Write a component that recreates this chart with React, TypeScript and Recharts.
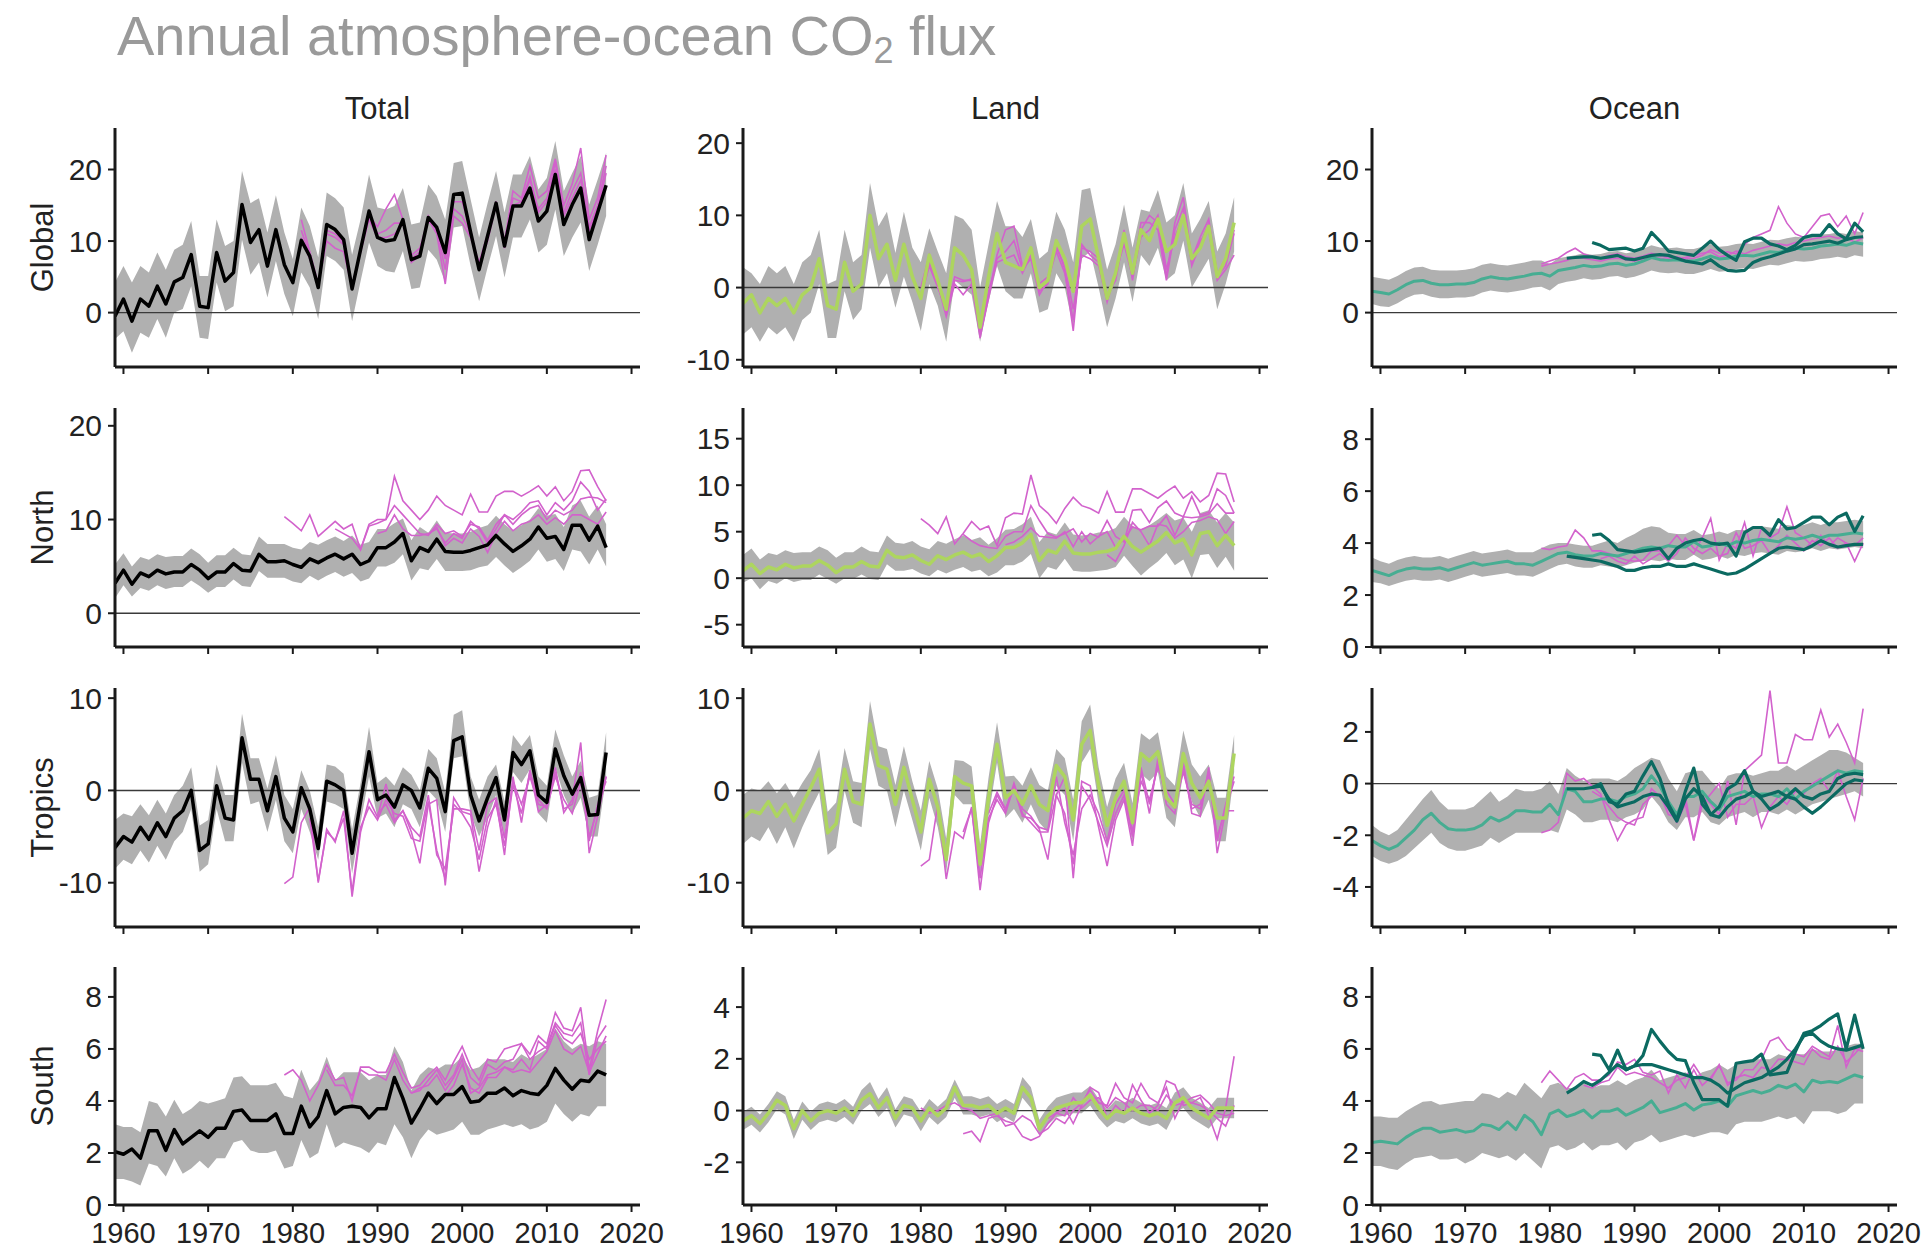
import React from 'react';
import { ComposedChart, Area, Line, XAxis, YAxis, ReferenceLine } from 'recharts';

const FONT = '"Liberation Sans", Arial, Helvetica, sans-serif';

const years = [1959,1960,1961,1962,1963,1964,1965,1966,1967,1968,
1969,1970,1971,1972,1973,1974,1975,1976,1977,1978,
1979,1980,1981,1982,1983,1984,1985,1986,1987,1988,
1989,1990,1991,1992,1993,1994,1995,1996,1997,1998,
1999,2000,2001,2002,2003,2004,2005,2006,2007,2008,
2009,2010,2011,2012,2013,2014,2015,2016,2017];
const xTicks = [1960,1970,1980,1990,2000,2010,2020];
const rowNames = ['Global','North','Tropics','South'];
const colNames = ['Total','Land','Ocean'];
const titleMain = 'Annual atmosphere-ocean CO';
const titleSub = '2';
const titleEnd = ' flux';

// ---------- Total / Global ----------
const tgMean = [-0.5,1.9,-1.2,1.9,0.9,3.7,1.2,4.3,4.9,8.1, 0.9,0.7,8.4,4.4,5.6,15.1,9.8,11.6,6.5,11.6, 6.7,4.2,10.1,7.9,3.5,12.3,11.6,10.2,3.3,8.8, 14.2,10.5,10.0,10.2,13.0,7.4,7.9,13.3,11.9,8.4, 16.5,16.7,11.2,6.0,10.7,15.3,9.3,14.9,14.9,17.4, 12.8,14.2,19.3,12.3,15.1,17.4,10.2,14.0,17.8];
const tgHi = [4.2,6.5,4.2,6.5,5.6,8.4,6.0,8.8,9.5,12.8, 5.1,5.1,13.0,9.3,10.0,19.8,15.3,16.0,11.2,16.4, 11.2,7.5,14.7,12.1,7.7,16.8,16.0,14.7,8.1,13.0, 19.3,14.7,14.4,14.9,17.4,12.3,12.6,17.9,16.3,13.0, 20.9,21.2,15.8,10.5,15.3,19.8,14.0,19.3,19.3,21.9, 17.2,18.8,24.0,17.0,19.5,21.9,15.1,18.6,22.3];
const tgLo = [-3.7,-2.6,-5.6,-2.8,-3.5,-0.9,-3.5,0.0,0.5,3.7, -3.5,-3.7,4.2,0.2,0.9,10.2,5.3,7.0,2.1,7.2, 2.6,-0.5,5.6,3.5,-0.9,7.9,7.2,6.0,-1.2,4.4, 9.8,6.5,5.8,5.6,8.6,3.3,3.5,8.8,7.4,4.2, 11.9,12.1,6.5,1.6,6.3,10.7,4.9,10.5,10.5,13.0, 8.4,9.5,14.4,7.9,10.5,12.6,5.8,9.5,13.5];
const tgM1 = [13.0,8.5,4.0,10.0,9.0,8.5,3.5,8.5,13.5,12.0, 14.5,16.5,13.0,8.0,9.0,13.0,11.0,4.0,13.5,12.5, 10.5,7.0,11.0,15.5,10.0,17.0,16.0,20.5,16.0,17.0, 21.5,15.0,18.0,23.0,13.0,16.0,22.0];
const tgM2 = [11.5,8.0,3.8,11.0,10.5,9.5,3.2,9.0,13.8,11.0, 11.5,12.5,12.5,7.5,8.5,13.5,11.5,6.0,14.5,13.5, 11.0,6.5,10.0,15.0,9.5,16.0,15.5,18.5,14.5,16.0, 20.0,14.0,17.0,19.5,12.0,15.0,20.5];
const tgM3 = [10.5,7.5,3.5,11.5,11.0,9.8,3.8,8.5,13.0,10.5, 10.5,11.0,12.5,7.0,8.0,13.0,12.0,7.5,15.5,15.5, 11.5,6.2,10.5,15.5,9.0,15.0,15.5,19.0,14.0,15.5, 21.0,13.5,16.0,18.5,11.5,14.5,19.5];

// ---------- Land / Global ----------
const lgMean = [-2.2,-1.0,-3.5,-1.5,-2.5,-1.5,-3.5,-1.0,0.0,4.0, -2.5,-3.0,3.5,-0.5,0.5,10.0,4.0,6.0,1.0,6.0, 1.5,-1.5,4.5,1.0,-3.0,5.5,4.5,2.5,-5.5,1.5, 7.5,3.5,3.0,2.5,5.5,0.0,1.0,6.5,4.0,-0.5, 8.5,9.5,4.0,-1.5,2.0,7.5,2.0,8.0,6.5,9.5, 5.0,6.0,10.0,4.0,5.5,8.5,1.5,4.0,9.0];
const lgHi = [2.8,2.0,0.5,3.0,2.0,3.0,0.5,3.5,4.5,8.0, 0.5,1.0,8.0,3.5,4.5,14.5,8.5,10.5,4.8,10.5, 5.5,3.5,8.2,5.0,2.0,10.0,9.5,8.0,0.0,6.0, 12.0,8.5,8.5,7.0,9.5,4.0,5.0,10.5,8.0,3.5, 13.5,13.8,8.0,2.5,6.0,11.5,5.5,10.8,10.5,13.5, 9.0,10.0,14.5,7.5,9.5,12.0,5.0,7.5,12.5];
const lgLo = [-6.5,-5.5,-7.5,-5.5,-6.5,-5.5,-7.5,-4.5,-3.5,0.5, -7.0,-7.0,-0.5,-4.5,-3.0,5.5,0.0,2.0,-2.8,1.5, -2.0,-6.0,0.5,-2.5,-7.5,1.0,0.0,-1.0,-7.5,-2.0, 3.0,-0.5,-1.5,-1.5,2.0,-3.5,-3.0,2.0,0.0,-5.5, 4.0,5.0,0.0,-5.5,-1.5,3.5,-2.0,4.5,3.0,5.5, 1.0,2.0,6.5,0.0,2.0,4.0,-3.0,0.5,5.0];
const lgM1 = [0.0,4.5,1.0,-3.5,1.0,0.8,1.2,-7.0,-1.0,4.5, 8.0,8.5,3.0,4.5,-0.5,0.5,6.0,2.5,-6.0,6.0, 4.5,3.5,-1.5,1.5,8.0,1.0,8.0,10.0,9.0,1.5, 9.0,12.5,4.0,7.0,9.5,2.0,3.5,8.0];
const lgM2 = [-1.0,3.5,0.5,-4.0,0.5,-1.0,0.5,-6.5,-1.5,4.0, 5.0,6.5,2.5,4.0,-1.0,1.0,5.0,2.0,-4.5,5.5, 5.0,4.0,-1.0,1.0,7.0,2.0,9.0,9.0,8.0,1.0, 8.0,11.0,3.0,6.0,9.0,1.5,3.0,7.5];
const lgM3 = [-1.5,3.0,0.0,-3.0,1.5,1.0,1.0,-6.0,-0.5,3.5, 4.0,4.5,2.0,4.5,0.5,1.5,5.5,3.0,-3.0,4.5, 4.0,3.0,-2.0,2.0,6.0,1.5,7.0,8.0,10.0,2.5, 7.0,10.0,3.5,6.5,8.0,1.0,2.5,4.5];

// ---------- Ocean / Global ----------
const ogMean = [3.0,2.8,2.6,3.2,3.9,4.4,4.5,4.1,3.9,3.9, 4.0,4.0,4.2,4.7,5.0,4.8,4.7,4.9,5.1,5.4, 5.5,5.1,5.9,6.1,6.3,6.6,6.4,6.5,6.8,6.9, 6.6,6.8,7.2,7.7,7.4,7.3,7.4,7.2,7.2,7.5, 7.9,7.5,7.6,7.9,8.0,7.9,8.2,8.5,8.4,8.7, 9.0,8.9,9.0,9.3,9.4,9.6,9.4,9.8,9.6];
const ogHi = [5.0,4.8,4.6,5.1,5.8,6.3,6.4,6.0,5.9,5.9, 5.9,6.0,6.2,6.7,6.9,6.7,6.6,6.8,7.0,7.3, 7.3,6.8,7.6,7.8,8.0,8.3,8.1,8.2,8.5,8.6, 8.3,8.5,8.9,9.4,9.1,9.0,9.1,8.9,8.9,9.2, 9.6,9.2,9.3,9.6,9.7,9.6,9.9,10.2,10.1,10.4, 10.6,10.5,10.6,10.9,11.0,11.2,11.0,11.4,11.2];
const ogLo = [1.2,0.9,0.8,1.3,2.0,2.5,2.6,2.2,2.0,2.0, 2.1,2.1,2.3,2.8,3.1,2.9,2.8,3.0,3.2,3.5, 3.6,3.1,4.0,4.3,4.5,4.8,4.6,4.7,5.0,5.1, 4.8,5.0,5.4,5.9,5.6,5.5,5.6,5.4,5.4,5.7, 6.1,5.7,5.8,6.1,6.2,6.1,6.4,6.7,6.6,6.9, 7.2,7.1,7.2,7.5,7.6,7.8,7.6,8.0,7.8];
const ogT1 = [7.6,7.7,7.8,7.8,7.6,7.8,8.0,7.5,7.4,7.7, 8.0,8.1,8.0,7.6,7.2,7.0,6.8,7.4,6.5,5.9, 5.8,5.9,7.0,7.5,7.8,8.2,8.6,8.9,9.5,9.6, 9.8,10.0,9.7,10.2,10.5,10.6];
const ogT2 = [9.8,9.4,8.8,8.9,9.0,8.6,9.0,11.2,10.0,8.6, 8.4,8.2,8.0,9.0,10.0,8.8,8.0,7.3,9.9,10.4, 10.4,9.6,9.3,8.8,9.4,10.5,10.8,10.8,12.3,11.0, 10.3,12.5,11.3];
const ogM1 = [6.8,7.2,7.6,8.4,9.0,8.2,7.8,7.6,8.0,8.2, 7.8,7.6,7.9,8.3,8.0,7.6,7.8,7.5,7.6,8.0, 8.8,8.3,8.5,8.2,9.5,10.5,11.0,11.5,14.8,12.5, 11.0,10.5,12.0,13.5,13.8,12.0,13.5,11.0,14.0];
const ogM2 = [6.5,6.8,7.0,7.3,7.8,7.6,7.4,7.2,7.5,7.6, 7.4,7.2,7.5,7.8,7.6,7.4,7.6,7.7,8.0,8.3, 8.5,7.8,8.0,8.6,8.2,8.7,9.0,9.3,9.6,9.4, 9.8,10.0,10.3,10.5,10.7,10.4,10.6,9.8,10.5];

// ---------- Total / North ----------
const tnMean = [3.2,4.6,3.1,4.3,3.9,4.6,4.2,4.4,4.4,5.2, 4.6,3.7,4.4,4.4,5.3,4.6,4.5,6.3,5.5,5.5, 5.6,5.2,4.9,5.8,5.4,5.9,6.3,5.8,6.3,5.2, 5.6,7.0,7.0,7.6,8.5,5.6,7.0,6.6,7.9,6.6, 6.5,6.5,6.7,7.0,7.3,8.3,7.4,6.6,7.2,7.9, 9.2,8.0,8.2,6.8,9.4,9.4,7.8,9.3,7.0];
const tnHi = [5.2,6.4,5.0,6.0,5.7,6.3,6.0,6.1,6.1,6.9, 6.3,5.4,6.2,6.2,7.0,6.3,6.2,8.2,7.4,7.4, 7.4,7.0,6.8,7.6,7.3,7.8,8.2,7.7,8.3,7.3, 7.6,9.0,9.0,9.6,10.1,7.8,9.2,8.6,9.9,8.6, 8.5,8.5,8.7,9.1,9.4,10.4,9.5,8.8,9.4,10.0, 11.2,10.4,10.6,9.2,11.5,12.0,10.3,11.5,9.5];
const tnLo = [1.6,3.0,1.8,2.7,2.4,3.0,2.6,2.8,2.8,3.5, 2.9,2.2,2.8,2.8,3.6,2.9,2.8,4.5,3.8,3.8, 3.8,3.4,3.2,4.0,3.5,4.0,4.4,3.9,4.3,3.4, 3.7,5.0,5.0,5.4,6.3,3.5,4.8,4.6,5.8,4.5, 4.5,4.5,4.6,4.9,5.1,6.0,5.1,4.3,4.9,5.6, 6.8,5.5,5.8,4.5,6.8,6.6,5.2,6.8,5.0];
const tnM1 = [10.3,9.6,8.8,10.5,8.2,9.0,9.8,9.0,9.5,6.8, 9.3,9.6,10.0,14.6,12.0,11.0,10.0,11.0,12.5,11.5, 11.0,10.5,12.7,10.8,10.8,12.5,13.0,13.0,12.5,13.0, 13.6,12.5,13.5,12.0,13.0,15.2,15.3,13.5,12.0];
const tnM2 = [9.0,8.5,8.0,6.8,9.5,10.0,10.0,11.5,10.5,9.5, 8.5,8.3,9.5,8.5,8.8,8.2,9.5,9.2,7.8,9.5, 10.5,10.0,10.8,11.8,12.0,10.5,11.8,11.0,12.0,14.0, 13.0,11.0,12.2];
const tnM3 = [8.5,8.8,10.5,9.0,8.3,8.3,8.5,9.0,7.5,8.5, 8.0,9.8,9.0,7.5,9.0,10.5,9.5,10.5,11.2,11.5, 10.0,11.0,10.5,11.0,12.2,12.4,12.3,11.8];
const tnM4 = [8.4,9.2,7.2,8.0,7.5,9.0,8.2,6.5,8.5,9.8, 8.8,9.5,9.8,10.5,9.5,10.2,9.5,10.5,10.5,10.0, 9.5,10.8];

// ---------- Land / North ----------
const lnMean = [0.8,1.5,0.5,1.2,0.9,1.5,1.1,1.3,1.3,1.9, 1.4,0.6,1.2,1.2,1.8,1.3,1.2,3.0,2.3,2.2, 2.5,1.9,1.5,2.4,2.0,2.5,2.8,2.3,2.6,1.8, 2.4,3.3,3.3,3.8,4.7,1.9,3.0,2.7,4.0,2.7, 2.6,2.6,2.8,2.9,3.2,4.5,3.4,2.8,3.4,4.0, 4.9,3.8,4.2,2.5,4.8,5.0,3.5,4.6,3.5];
const lnHi = [2.5,3.2,2.0,2.7,2.5,3.0,2.7,2.8,2.8,3.4, 3.0,2.2,2.8,2.8,3.4,2.9,2.8,4.6,3.8,3.7, 4.0,3.4,3.1,4.0,3.7,4.2,4.6,4.1,4.4,3.6, 4.3,5.2,5.3,5.8,6.6,3.9,5.0,4.7,6.0,4.7, 4.6,4.7,4.9,5.0,5.4,6.6,5.6,5.2,5.7,6.3, 7.0,6.2,6.5,5.0,7.0,7.3,6.0,7.0,6.0];
const lnLo = [-0.5,0.0,-1.2,-0.3,-0.6,0.0,-0.4,-0.2,-0.2,0.4, -0.1,-0.6,0.0,-0.1,0.4,-0.1,-0.2,1.5,0.8,0.8, 1.0,0.5,0.2,0.9,0.5,0.9,1.2,0.7,0.9,0.2, 0.6,1.4,1.4,1.8,2.6,0.0,1.2,0.9,2.1,0.8, 0.7,0.7,0.8,0.9,1.2,2.4,1.3,0.3,1.1,1.8, 2.7,1.4,2.0,0.0,2.5,2.6,1.1,2.3,0.8];
const lnM1 = [6.4,5.7,4.8,6.6,3.7,4.8,6.1,5.2,5.6,3.5, 6.5,7.0,6.9,11.1,7.8,7.0,5.9,7.5,8.7,7.8, 7.5,7.0,9.3,7.1,7.1,9.6,9.6,9.1,8.6,9.3, 9.9,8.6,9.3,8.2,8.9,11.3,11.2,8.2];
const lnM2 = [4.7,4.0,3.5,3.3,3.2,4.5,5.0,5.0,7.8,6.2, 4.8,4.4,4.8,5.3,3.9,4.8,4.4,6.2,4.5,3.9, 7.3,7.4,6.0,7.6,8.3,7.0,6.6,8.8,6.8,7.1, 9.6,8.9,7.0];
const lnM3 = [3.6,3.9,4.5,5.4,4.5,4.4,4.3,5.0,3.4,5.0, 3.7,4.5,5.0,3.3,4.2,5.5,5.2,5.6,5.6,6.7, 4.6,6.6,6.5,6.6,6.9,8.0,7.0,7.0];
const lnM4 = [2.5,1.8,3.5,6.0,5.0,3.5,5.8,5.6,4.3,5.0, 6.0,6.2,6.6,6.3,4.8,6.1];

// ---------- Ocean / North ----------
const onMean = [2.95,2.85,2.75,2.9,3.0,3.05,3.0,3.0,3.05,2.95, 3.05,3.15,3.25,3.15,3.2,3.25,3.3,3.2,3.2,3.15, 3.3,3.45,3.6,3.65,3.55,3.5,3.5,3.6,3.55,3.5, 3.6,3.7,3.8,3.85,3.8,3.9,3.85,3.85,4.05,3.85, 3.9,4.0,3.9,4.05,4.0,4.1,4.15,4.1,4.05,4.2, 4.15,4.2,4.3,4.2,4.3,4.3,4.35,4.4,4.35];
const onHi = [3.45,3.3,3.2,3.35,3.45,3.5,3.45,3.45,3.5,3.4, 3.5,3.6,3.7,3.6,3.65,3.7,3.75,3.65,3.65,3.65, 3.8,3.95,4.0,4.0,3.95,3.9,3.9,4.0,4.1,4.0, 4.2,4.35,4.55,4.65,4.6,4.4,4.35,4.35,4.5,4.3, 4.35,4.45,4.35,4.5,4.5,4.6,4.65,4.6,4.55,4.7, 4.65,4.7,4.8,4.7,4.8,4.8,4.85,4.9,4.85];
const onLo = [2.5,2.45,2.35,2.45,2.55,2.6,2.55,2.55,2.6,2.5, 2.6,2.7,2.8,2.7,2.75,2.8,2.85,2.75,2.75,2.7, 2.85,3.0,3.15,3.2,3.1,3.05,3.05,3.15,3.1,3.05, 3.15,3.25,3.3,3.35,3.3,3.4,3.35,3.35,3.55,3.35, 3.4,3.5,3.4,3.55,3.5,3.6,3.65,3.6,3.55,3.7, 3.65,3.7,3.8,3.7,3.8,3.75,3.8,3.85,3.8];
const onT1 = [3.5,3.45,3.4,3.35,3.3,3.2,3.1,2.95,2.95,3.05, 3.1,3.1,3.2,3.1,3.1,3.2,3.1,3.0,2.9,2.8, 2.85,3.0,3.2,3.4,3.6,3.8,3.85,3.8,3.75,3.9, 4.1,3.95,3.85,3.9,3.95,3.95];
const onT2 = [4.3,4.35,4.1,3.75,3.7,3.65,3.7,3.75,3.8,3.4, 3.8,4.0,4.1,4.15,4.0,3.95,4.0,3.5,4.4,4.6, 4.6,4.3,4.9,4.55,4.6,4.8,5.0,5.0,4.7,5.0, 5.15,4.45,5.05];
const onM1 = [3.8,3.75,3.85,3.9,4.5,4.2,3.7,3.7,3.6,3.45, 3.35,3.3,3.35,3.7,3.7,3.9,4.3,3.9,3.6,4.2, 4.95,3.35,4.0,3.8,4.8,3.5,4.6,4.2,4.4,5.4, 4.4,4.2,3.9,4.3,3.9,4.2,4.0,3.3,4.0];
const onM2 = [3.4,3.5,3.3,3.2,3.5,3.2,3.4,3.6,3.3,3.6, 4.2,3.8,3.6,3.8,3.5,3.6,4.4,3.8,3.9,4.1, 3.6,3.9,4.3,4.0,3.7,4.1,3.9,4.2,3.8,4.0, 3.9,4.2];

// ---------- Total / Tropics ----------
const ttMean = [-6.2,-5.0,-5.6,-4.0,-5.3,-3.5,-5.0,-3.0,-2.2,0.0, -6.5,-5.8,0.5,-3.0,-3.2,5.7,1.2,1.2,-2.2,1.5, -3.0,-4.5,0.3,-2.0,-6.3,1.0,0.6,0.0,-6.8,-1.2, 4.2,-1.0,-0.5,-1.8,0.6,0.0,-1.9,2.4,1.3,-2.3, 5.4,5.8,-0.5,-3.3,-0.8,1.4,-3.2,4.1,2.8,4.3, -0.5,-1.3,4.5,1.6,-0.4,1.4,-2.7,-2.6,4.1];
const ttHi = [-3.2,-2.5,-2.8,-1.5,-2.7,-1.0,-2.5,-0.5,0.5,2.5, -3.8,-3.2,2.8,-0.5,-0.5,8.3,3.5,3.5,0.2,3.8, -0.5,-2.0,2.2,0.0,-4.0,2.8,2.6,1.8,-4.2,0.8, 6.9,0.8,1.5,0.5,2.5,1.7,0.0,4.5,3.5,-0.2, 8.2,8.7,1.5,-1.0,1.5,2.8,-1.2,6.0,4.8,6.0, 1.5,0.5,6.6,3.8,1.5,3.2,-0.8,-0.5,6.3];
const ttLo = [-8.5,-7.5,-8.0,-6.5,-7.8,-6.0,-7.5,-5.5,-4.5,-2.0, -8.8,-8.0,-2.0,-5.5,-5.5,3.0,-1.5,-1.2,-4.5,-1.0, -5.5,-6.8,-2.0,-4.5,-7.5,-1.2,-1.5,-2.0,-9.0,-3.5, 1.5,-3.0,-2.5,-4.0,-1.5,-2.0,-4.0,0.0,-1.0,-4.5, 3.5,3.7,-2.5,-5.0,-3.0,-0.5,-5.0,2.0,0.8,2.3, -2.5,-3.5,2.5,-0.5,-2.5,-0.8,-5.0,-5.0,1.5];
const ttM1 = [-10.1,-9.4,-3.5,-1.8,-10.0,-4.2,-5.6,-2.2,-11.5,-4.5, -1.0,-2.9,0.7,-3.2,-2.2,-4.5,-7.9,-1.5,-1.0,-10.3, -0.8,-2.3,-2.6,-8.8,-4.0,-1.0,-7.0,1.5,-3.5,2.2, -2.3,-1.5,2.5,-2.4,-1.0,5.2,-6.8,-2.8,1.5];
const ttM2 = [-3.0,-9.8,-4.5,-5.4,-3.0,-11.0,-4.0,-1.8,-3.2,-1.0, -2.5,-2.8,-5.2,-5.5,-1.2,-6.5,-9.6,-1.5,-2.5,-4.0, -7.5,-3.0,-1.5,-6.0,0.6,-2.5,2.0,-1.0,-2.0,2.0, -2.0,-1.5,2.0,-5.5,-1.5,1.0];
const ttM3 = [-2.5,-1.5,-3.5,-2.2,-4.0,-5.0,-0.5,-7.0,-8.5,-2.0, -2.0,-2.2,-6.5,-1.5,-0.8,-5.2,1.0,-1.5,1.5,-1.5, -1.8,1.5,-1.0,-2.5,1.0,-5.0,-2.0,1.5];

// ---------- Land / Tropics ----------
const ltMean = [-3.0,-2.2,-2.5,-1.2,-2.8,-1.5,-3.3,-1.5,0.3,2.3, -4.6,-3.6,2.3,-1.2,-1.5,7.2,2.7,2.3,-1.5,2.5, -1.0,-4.5,1.2,-1.8,-7.5,1.5,0.8,0.5,-8.0,-0.8, 5.0,-0.8,0.0,-1.5,0.5,-1.5,-2.2,2.7,1.5,-3.2, 5.0,6.5,0.5,-3.8,-0.8,1.0,-3.5,4.0,3.2,4.2, -0.8,-1.8,4.0,0.8,-0.8,1.0,-3.0,-3.0,4.0];
const ltHi = [-0.5,0.2,0.0,1.0,-0.3,0.8,-0.8,0.8,2.2,4.5, -2.3,-1.3,4.6,1.0,0.8,9.7,4.8,4.5,0.6,4.8, 1.0,-2.2,3.2,0.2,-5.2,3.3,3.2,2.6,-5.8,1.4, 7.4,1.5,1.6,0.5,2.5,0.6,0.0,4.5,3.5,-1.0, 7.5,9.3,2.5,-1.8,1.3,3.0,-1.4,6.2,5.5,6.3, 1.5,0.5,6.5,2.8,1.5,2.8,-0.8,-0.8,6.0];
const ltLo = [-5.8,-5.0,-5.5,-4.0,-5.8,-4.0,-6.3,-4.0,-2.0,-0.2, -7.0,-6.2,0.0,-3.5,-4.0,4.5,0.5,0.0,-4.0,0.0, -3.2,-6.5,-0.8,-4.0,-9.0,-0.5,-1.5,-1.5,-9.8,-2.8, 3.0,-3.0,-2.0,-3.5,-1.5,-3.5,-4.5,0.5,-0.5,-5.5, 3.0,4.5,-1.5,-6.0,-3.0,-1.0,-5.5,1.8,1.0,2.0, -3.0,-4.0,2.0,-1.2,-3.0,-1.0,-5.5,-5.5,2.0];
const ltM1 = [-8.2,-7.5,-1.5,-9.6,-4.5,-5.2,-1.8,-10.8,-3.5,-0.5, -2.2,0.8,-2.0,-2.8,-4.2,-7.5,-0.5,1.5,-9.5,1.0, 0.5,-4.0,-8.2,-3.2,-1.0,-6.0,2.0,-2.5,3.5,-1.5, -2.5,3.0,-2.5,-2.8,2.5,-6.8,-2.2,-2.2];
const ltM2 = [-4.5,-2.0,-9.5,-3.0,-1.0,-2.5,0.5,-2.5,-3.5,-4.5, -4.5,-0.5,-2.5,-8.0,0.5,-1.0,-3.5,-6.0,-2.5,-0.5, -5.0,2.5,-1.5,3.0,-1.0,-2.0,2.5,-2.0,-1.5,2.0, -5.5,-1.5,1.5];
const ltM3 = [-2.5,-0.2,-2.0,0.2,-2.8,-3.0,-4.0,-4.3,1.5,-3.5, -7.0,-2.0,-0.5,-2.5,-5.5,-1.5,0.0,-4.5,1.0,-1.0, 2.5,0.0,-1.5,2.0,-1.5,-2.0,1.5,-5.0,-2.0,1.0];

// ---------- Ocean / Tropics ----------
const otMean = [-2.2,-2.4,-2.55,-2.4,-2.1,-1.8,-1.4,-1.15,-1.5,-1.75, -1.8,-1.8,-1.75,-1.6,-1.3,-1.45,-1.3,-1.05,-1.05,-1.1, -1.1,-0.8,-1.2,-0.2,-0.3,-0.7,-0.7,-0.6,-0.6,-0.7, -0.5,-0.4,-0.2,0.3,-0.1,-0.7,-1.2,-0.5,-0.5,-0.3, -0.7,-1.0,-0.5,-0.4,-0.3,-0.5,-0.4,-0.4,-0.5,-0.2, -0.6,-0.3,-0.1,0.1,0.3,0.5,0.4,0.5,0.45];
const otHi = [-1.6,-1.85,-2.0,-1.8,-1.4,-1.0,-0.6,-0.25,-0.7,-1.0, -1.0,-1.0,-0.9,-0.6,-0.3,-0.7,-0.5,-0.2,-0.3,-0.3, -0.2,0.1,-0.4,0.6,0.3,0.1,0.2,0.2,0.2,0.1, 0.3,0.6,0.8,1.0,0.9,0.2,-0.3,0.4,0.5,0.5, 0.1,-0.2,0.3,0.4,0.4,0.3,0.4,0.5,0.5,0.7, 0.5,0.7,0.9,1.1,1.3,1.3,1.2,1.0,0.8];
const otLo = [-2.8,-3.0,-3.1,-3.0,-2.8,-2.5,-2.2,-1.9,-2.3,-2.5, -2.6,-2.6,-2.5,-2.4,-2.1,-2.3,-2.1,-1.9,-1.9,-1.9, -1.9,-1.8,-1.9,-1.0,-1.2,-1.5,-1.5,-1.4,-1.4,-1.5, -1.3,-1.2,-1.0,-0.5,-0.9,-1.5,-1.8,-1.3,-1.3,-1.1, -1.5,-1.6,-1.3,-1.2,-1.1,-1.3,-1.1,-1.1,-1.2,-1.0, -1.2,-1.0,-0.8,-0.7,-0.6,-0.5,-0.4,-0.3,-0.5];
const otT1 = [-0.2,-0.2,-0.2,-0.15,-0.1,-0.6,-0.9,-0.8,-0.7,-0.5, -0.4,-0.45,-0.9,-1.45,-0.6,-0.2,-0.5,-1.2,-1.3,-0.9, -0.6,-0.5,-0.3,-0.6,-1.0,-0.8,-0.5,-0.6,-0.9,-1.15, -0.9,-0.6,-0.3,0.0,0.15,0.1];
const otT2 = [-0.15,0.0,-0.7,-0.8,-0.4,-0.3,0.3,0.85,0.2,-0.8, -1.4,-0.3,0.6,-0.8,-1.2,-0.9,-0.2,0.0,0.5,-0.3, -0.5,-0.4,-0.3,-0.5,-0.2,-0.5,-0.6,-0.4,-0.3,0.2, 0.35,0.4,0.35];
const otM1 = [-1.9,-1.8,-1.5,0.4,0.1,0.2,-0.1,-0.4,-1.4,-2.2, -1.6,-1.4,-1.3,-0.2,-0.5,-1.0,-1.5,-0.8,-2.2,-0.5, -0.8,-1.2,0.1,-1.6,0.5,0.8,1.1,3.6,0.8,0.8, 1.9,1.7,1.7,2.85,1.8,2.3,1.6,0.8,2.9];
const otM2 = [-0.3,-0.5,-0.9,-1.3,-1.5,-1.6,-0.8,-0.5,-0.4,-1.2, -1.3,-0.5,-2.2,-0.8,-0.4,0.0,-1.3,-0.8,-0.8,-0.5, -1.7,-0.9,-0.5,-0.8,-0.3,-0.4,0.0,0.2,-0.3,0.5, -0.5,-1.4,0.2];

// ---------- Total / South ----------
const tsMean = [2.05,1.95,2.15,1.8,2.85,2.85,2.1,2.9,2.35,2.6, 2.85,2.6,2.95,2.95,3.6,3.65,3.25,3.25,3.25,3.5, 2.75,2.75,3.8,3.0,3.4,4.4,3.5,3.75,3.8,3.75, 3.35,3.7,3.7,4.9,4.1,3.15,3.7,4.3,3.9,4.25, 4.25,4.55,3.95,4.0,4.3,4.3,4.5,4.2,4.4,4.3, 4.25,4.6,5.25,4.8,4.45,4.8,4.75,5.15,5.0];
const tsHi = [3.1,3.0,3.0,2.8,4.0,3.9,3.4,4.05,3.5,3.7, 4.0,3.9,4.0,4.1,4.9,4.95,4.6,4.6,4.6,4.7, 4.2,4.1,5.2,4.4,4.8,5.7,4.8,5.1,5.1,5.1, 4.8,5.0,5.0,6.1,5.5,4.4,5.0,5.3,5.2,5.4, 5.4,5.7,5.2,5.3,5.6,5.6,5.6,5.5,5.8,5.6, 5.8,6.0,6.8,6.3,6.0,6.2,6.1,6.3,6.2];
const tsLo = [1.0,1.0,0.9,0.75,1.6,1.5,1.1,1.8,1.2,1.4, 1.7,1.4,1.8,1.8,2.4,2.5,2.1,2.0,2.0,2.1, 1.4,1.5,2.5,1.8,2.0,3.1,2.2,2.4,2.3,2.2, 2.0,2.4,2.3,3.1,2.6,1.8,2.5,2.9,2.7,2.8, 2.9,3.2,2.7,2.7,2.9,3.0,3.1,3.0,3.1,2.9, 3.0,3.2,3.9,3.5,3.2,3.5,3.4,3.8,3.8];
const tsM1 = [5.0,5.2,4.8,4.0,4.6,5.4,4.8,4.9,4.0,5.3, 5.3,5.1,5.1,5.8,5.1,4.5,4.6,5.0,5.3,4.8, 5.5,6.1,5.3,4.8,5.6,5.5,6.0,6.1,6.2,5.8, 6.5,6.2,7.4,6.8,6.7,7.6,5.2,6.7,7.9];
const tsM2 = [5.2,4.6,4.6,4.2,5.2,5.0,5.0,4.8,5.6,4.8, 4.3,4.4,4.8,5.2,4.6,5.0,5.8,4.9,4.6,5.4, 5.2,5.5,5.6,6.2,5.6,5.9,6.1,7.0,6.6,6.5, 7.0,5.0,6.4,6.9];
const tsM3 = [4.3,4.5,4.6,5.0,4.4,4.9,5.6,4.3,4.5,5.0, 5.1,5.3,5.2,5.6,5.2,6.3,6.0,6.9,6.4,6.2, 6.6,5.6,6.0,6.3];
const tsM4 = [4.2,4.6,5.4,4.5,4.3,4.9,4.9,5.3,5.1,5.2, 5.1,5.5,5.9,6.7,6.0,5.8,6.1,5.1,5.8,6.5];

// ---------- Land / South ----------
const lsMean = [-0.4,-0.2,-0.5,-0.1,0.4,0.2,-0.7,0.0,-0.4,-0.1, 0.0,-0.1,0.1,-0.2,0.4,0.65,0.1,0.5,-0.3,0.2, 0.1,-0.4,0.1,-0.2,0.1,0.9,0.2,0.2,0.1,0.2, -0.1,0.1,-0.1,0.9,0.5,-0.7,-0.2,0.1,0.2,0.3, 0.3,0.6,0.1,-0.3,0.0,-0.1,0.1,-0.1,-0.2,-0.1, -0.3,0.3,0.5,0.1,-0.1,-0.3,0.1,0.1,0.1];
const lsHi = [-0.05,0.15,-0.15,0.25,0.75,0.55,-0.35,0.35,-0.05,0.25, 0.35,0.25,0.45,0.15,0.8,1.1,0.45,0.9,0.05,0.55, 0.45,-0.05,0.45,0.15,0.45,1.2,0.55,0.55,0.45,0.55, 0.25,0.45,0.25,1.3,0.9,-0.35,0.15,0.5,0.6,0.7, 0.7,0.95,0.45,0.05,0.4,0.3,0.5,0.3,0.2,0.3, 0.1,0.7,0.9,0.5,0.3,0.1,0.5,0.5,0.5];
const lsLo = [-0.75,-0.55,-0.85,-0.45,0.05,-0.15,-1.1,-0.35,-0.75,-0.45, -0.35,-0.45,-0.25,-0.55,0.0,0.25,-0.25,0.1,-0.65,-0.15, -0.25,-0.8,-0.25,-0.55,-0.25,0.5,-0.15,-0.15,-0.25,-0.15, -0.45,-0.25,-0.45,0.5,0.1,-0.95,-0.55,-0.25,-0.2,-0.1, -0.1,0.2,-0.3,-0.65,-0.4,-0.5,-0.3,-0.5,-0.6,-0.5, -0.75,-0.1,0.1,-0.3,-0.5,-0.7,-0.3,-0.3,-0.3];
const lsM1 = [-0.9,-0.8,-1.2,-0.3,-0.2,-0.4,-0.5,-1.0,-1.15,-1.0, -0.5,-0.1,0.1,-0.5,0.2,0.9,0.7,-0.3,0.2,-0.1, 1.0,0.4,-0.1,0.2,1.15,1.0,0.2,0.3,0.5,-0.2, -1.1,0.1,2.1];
const lsM2 = [0.1,-0.1,0.0,0.2,0.3,0.1,0.0,-0.3,-0.2,-0.1, -0.6,-0.5,-0.2,-0.4,-0.9,-0.7,-0.3,-0.5,0.0,0.3, 0.8,0.3,0.2,1.05,0.5,0.3,1.05,0.5,0.3,0.9, -0.3,0.4,0.3,0.2,0.0,-0.3,-0.6,0.2];
const lsM3 = [-0.3,-0.1,-0.2,0.5,0.1,0.4,0.5,0.1,0.5,0.3, 0.0,0.2,0.2,0.0,0.6,0.2,0.3,0.5,0.6,0.3, -0.1,-0.2,-0.1];

// ---------- Ocean / South ----------
const osMean = [2.4,2.45,2.4,2.35,2.6,2.8,2.95,2.95,2.8,2.85, 2.9,2.8,2.85,3.1,3.05,2.9,3.2,2.9,3.45,3.2, 2.7,3.5,3.65,3.4,3.5,3.65,3.35,3.6,3.6,3.7, 3.45,3.6,3.75,4.0,3.55,3.65,3.75,3.9,3.65,3.85, 3.9,4.0,3.8,4.2,4.3,4.4,4.3,4.4,4.6,4.5, 4.65,4.35,4.8,4.7,4.75,4.7,4.85,5.0,4.9];
const osHi = [3.4,3.4,3.35,3.35,3.6,3.8,3.97,4.0,3.85,3.9, 3.95,4.0,4.0,4.3,4.25,4.1,4.35,4.2,4.7,4.4, 4.1,4.6,4.7,4.5,4.5,4.7,4.5,4.6,4.6,4.8, 4.6,4.8,4.9,5.2,4.8,4.9,5.0,5.1,4.9,5.1, 5.2,5.4,5.2,5.4,5.5,5.6,5.6,5.6,5.8,5.7, 5.8,5.8,6.0,5.9,5.9,5.95,6.1,6.2,6.2];
const osLo = [1.5,1.5,1.4,1.35,1.6,1.8,1.85,1.9,1.75,1.75, 1.8,1.6,1.75,2.0,1.9,1.8,1.9,1.7,2.0,1.7, 1.4,2.2,2.3,2.1,2.2,2.4,2.1,2.3,2.3,2.4, 2.1,2.4,2.5,2.7,2.4,2.5,2.6,2.7,2.6,2.7, 2.8,2.8,2.7,3.1,3.2,3.2,3.2,3.3,3.4,3.3, 3.4,3.1,3.6,3.6,3.6,3.5,3.6,3.9,3.9];
const osT1 = [4.3,4.5,4.75,4.6,4.8,5.1,5.4,5.2,5.35,5.4, 5.4,5.3,5.2,5.1,5.0,4.9,4.9,4.8,4.6,4.3, 4.5,4.7,4.8,4.9,5.1,5.3,5.6,6.0,6.5,6.6, 6.3,6.1,6.0,5.95,6.05,6.15];
const osT2 = [5.8,5.75,5.2,5.95,5.2,5.35,5.75,6.75,6.3,5.9, 5.6,5.55,4.7,4.05,4.05,4.05,3.8,5.45,5.5,5.55, 5.8,5.0,5.05,5.1,5.9,6.6,6.7,6.9,7.15,7.35, 6.0,7.3,6.0];
const osM1 = [4.7,5.15,4.8,4.45,4.9,5.05,4.8,4.8,5.0,5.5, 5.4,5.6,5.1,5.0,5.15,4.3,5.0,4.5,5.2,4.6, 4.9,5.35,4.7,4.8,5.2,5.2,5.6,6.3,6.45,6.0, 5.8,5.7,6.1,5.9,5.7,6.9,5.3,6.0,5.9];
const osM2 = [4.6,4.5,4.7,4.8,5.3,5.0,5.1,5.0,4.9,4.7, 4.5,4.8,4.9,5.4,4.9,4.8,5.4,4.6,4.9,5.0, 4.9,5.3,5.2,5.6,5.6,5.5,5.4,6.0,5.7,5.6, 6.1,5.5,5.8,6.2];

type Extra = { start: number; values: number[] };
type Spec = {
  col: number; row: number; kind: 'total' | 'land' | 'ocean';
  mean: number[]; lo: number[]; hi: number[];
  mag: Extra[]; teal: Extra[];
  domain: [number, number]; ticks: number[];
};

const specs: Spec[] = [
  { col: 0, row: 0, kind: 'total', mean: tgMean, lo: tgLo, hi: tgHi, mag: [{ start: 1981, values: tgM1 }, { start: 1981, values: tgM2 }, { start: 1981, values: tgM3 }], teal: [], domain: [-7.6, 25.8], ticks: [0, 10, 20] },
  { col: 1, row: 0, kind: 'land', mean: lgMean, lo: lgLo, hi: lgHi, mag: [{ start: 1980, values: lgM1 }, { start: 1980, values: lgM2 }, { start: 1980, values: lgM3 }], teal: [], domain: [-11, 22.1], ticks: [-10, 0, 10, 20] },
  { col: 2, row: 0, kind: 'ocean', mean: ogMean, lo: ogLo, hi: ogHi, mag: [{ start: 1979, values: ogM1 }, { start: 1979, values: ogM2 }], teal: [{ start: 1982, values: ogT1 }, { start: 1985, values: ogT2 }], domain: [-7.6, 25.8], ticks: [0, 10, 20] },
  { col: 0, row: 1, kind: 'total', mean: tnMean, lo: tnLo, hi: tnHi, mag: [{ start: 1979, values: tnM1 }, { start: 1985, values: tnM2 }, { start: 1990, values: tnM3 }, { start: 1996, values: tnM4 }], teal: [], domain: [-3.6, 21.9], ticks: [0, 10, 20] },
  { col: 1, row: 1, kind: 'land', mean: lnMean, lo: lnLo, hi: lnHi, mag: [{ start: 1980, values: lnM1 }, { start: 1985, values: lnM2 }, { start: 1990, values: lnM3 }, { start: 2002, values: lnM4 }], teal: [], domain: [-7.4, 18.3], ticks: [-5, 0, 5, 10, 15] },
  { col: 2, row: 1, kind: 'ocean', mean: onMean, lo: onLo, hi: onHi, mag: [{ start: 1979, values: onM1 }, { start: 1986, values: onM2 }], teal: [{ start: 1982, values: onT1 }, { start: 1985, values: onT2 }], domain: [0, 9.2], ticks: [0, 2, 4, 6, 8] },
  { col: 0, row: 2, kind: 'total', mean: ttMean, lo: ttLo, hi: ttHi, mag: [{ start: 1979, values: ttM1 }, { start: 1982, values: ttM2 }, { start: 1990, values: ttM3 }], teal: [], domain: [-14.8, 11.1], ticks: [-10, 0, 10] },
  { col: 1, row: 2, kind: 'land', mean: ltMean, lo: ltLo, hi: ltHi, mag: [{ start: 1980, values: ltM1 }, { start: 1985, values: ltM2 }, { start: 1988, values: ltM3 }], teal: [], domain: [-14.8, 11.1], ticks: [-10, 0, 10] },
  { col: 2, row: 2, kind: 'ocean', mean: otMean, lo: otLo, hi: otHi, mag: [{ start: 1979, values: otM1 }, { start: 1985, values: otM2 }], teal: [{ start: 1982, values: otT1 }, { start: 1985, values: otT2 }], domain: [-5.55, 3.7], ticks: [-4, -2, 0, 2] },
  { col: 0, row: 3, kind: 'total', mean: tsMean, lo: tsLo, hi: tsHi, mag: [{ start: 1979, values: tsM1 }, { start: 1984, values: tsM2 }, { start: 1994, values: tsM3 }, { start: 1998, values: tsM4 }], teal: [], domain: [0, 9.15], ticks: [0, 2, 4, 6, 8] },
  { col: 1, row: 3, kind: 'land', mean: lsMean, lo: lsLo, hi: lsHi, mag: [{ start: 1985, values: lsM1 }, { start: 1980, values: lsM2 }, { start: 1995, values: lsM3 }], teal: [], domain: [-3.65, 5.55], ticks: [-2, 0, 2, 4] },
  { col: 2, row: 3, kind: 'ocean', mean: osMean, lo: osLo, hi: osHi, mag: [{ start: 1979, values: osM1 }, { start: 1984, values: osM2 }], teal: [{ start: 1982, values: osT1 }, { start: 1985, values: osT2 }], domain: [0, 9.15], ticks: [0, 2, 4, 6, 8] },
];

const COL_LEFT = [115, 743, 1372];
const PLOT_W = 525;
const ROW_TOP = [128, 408, 688, 967];
const ROW_H = [239, 239, 239, 238];

const MAIN_COLOR = { total: '#000000', land: '#add55f', ocean: '#47ad92' };
const MAIN_WIDTH = { total: 3.5, land: 3.5, ocean: 3 };
const BAND = '#b0b0b0';
const MAGENTA = '#d262cc';
const DARK_TEAL = '#0b6a61';
const AXIS = '#1a1a1a';

function buildRows(s: Spec) {
  return years.map((y, i) => {
    const row: Record<string, any> = { year: y, band: [s.lo[i], s.hi[i]], mean: s.mean[i] };
    s.mag.forEach((e, k) => {
      const j = y - e.start;
      row['m' + k] = j >= 0 && j < e.values.length ? e.values[j] : null;
    });
    s.teal.forEach((e, k) => {
      const j = y - e.start;
      row['t' + k] = j >= 0 && j < e.values.length ? e.values[j] : null;
    });
    return row;
  });
}

const XTick = (props: any) => {
  const { x, y, payload } = props;
  return (
    <text x={x} y={y + 29} textAnchor="middle" fontSize={29} fontFamily={FONT} fill="#222">{payload.value}</text>
  );
};
const NoTick = () => <g />;
const YTick = (props: any) => {
  const { x, y, payload } = props;
  return (
    <text x={x - 4} y={y + 10.5} textAnchor="end" fontSize={30} fontFamily={FONT} fill="#222">{payload.value}</text>
  );
};

function Panel({ s }: { s: Spec }) {
  const data = buildRows(s);
  const yW = 70, mT = 6, mR = 45, xH = 50;
  const h = ROW_H[s.row];
  const W = yW + PLOT_W + mR;
  const H = mT + h + xH;
  const showX = s.row === 3;
  return (
    <div style={{ position: 'absolute', left: COL_LEFT[s.col] - yW, top: ROW_TOP[s.row] - mT }}>
      <ComposedChart width={W} height={H} data={data} margin={{ top: mT, right: mR, left: 0, bottom: 0 }}>
        <XAxis dataKey="year" type="number" domain={[1959, 2021]} ticks={xTicks} interval={0} allowDataOverflow height={xH}
          axisLine={{ stroke: AXIS, strokeWidth: 3 }} tickLine={{ stroke: AXIS, strokeWidth: 2 }} tickSize={7}
          tick={showX ? XTick : NoTick} />
        <YAxis type="number" domain={s.domain} ticks={s.ticks} interval={0} allowDataOverflow width={yW}
          axisLine={{ stroke: AXIS, strokeWidth: 3 }} tickLine={{ stroke: AXIS, strokeWidth: 2 }} tickSize={7}
          tick={YTick} />
        <Area dataKey="band" stroke="none" fill={BAND} fillOpacity={1} isAnimationActive={false} dot={false} activeDot={false} />
        {s.domain[0] < 0 && <ReferenceLine y={0} stroke="#3a3a3a" strokeWidth={1.4} />}
        {s.mag.map((_, k) => (
          <Line key={'m' + k} dataKey={'m' + k} stroke={MAGENTA} strokeWidth={1.6} dot={false} activeDot={false} isAnimationActive={false} />
        ))}
        <Line dataKey="mean" stroke={MAIN_COLOR[s.kind]} strokeWidth={MAIN_WIDTH[s.kind]} dot={false} activeDot={false} isAnimationActive={false} strokeLinejoin="round" />
        {s.teal.map((_, k) => (
          <Line key={'t' + k} dataKey={'t' + k} stroke={DARK_TEAL} strokeWidth={3.2} dot={false} activeDot={false} isAnimationActive={false} strokeLinejoin="round" />
        ))}
      </ComposedChart>
    </div>
  );
}

export default function App() {
  return (
    <div style={{ position: 'absolute', left: 0, top: 0, width: 1926, height: 1250, background: '#fff', fontFamily: FONT }}>
      <svg width={1926} height={1250} style={{ position: 'absolute', left: 0, top: 0 }}>
        <text x={117} y={55} fontSize={56} fill="#9a9a9a" fontFamily={FONT}>
          {titleMain}
          <tspan fontSize={36} dy={8}>{titleSub}</tspan>
          <tspan dy={-8}>{titleEnd}</tspan>
        </text>
        {colNames.map((c, i) => (
          <text key={c} x={COL_LEFT[i] + PLOT_W / 2} y={119} textAnchor="middle" fontSize={31} fill="#222" fontFamily={FONT}>{c}</text>
        ))}
        {rowNames.map((r, i) => (
          <text key={r} transform={`translate(53, ${ROW_TOP[i] + ROW_H[i] / 2}) rotate(-90)`} textAnchor="middle" fontSize={31} fill="#222" fontFamily={FONT}>{r}</text>
        ))}
      </svg>
      {specs.map((s, i) => <Panel key={i} s={s} />)}
    </div>
  );
}
